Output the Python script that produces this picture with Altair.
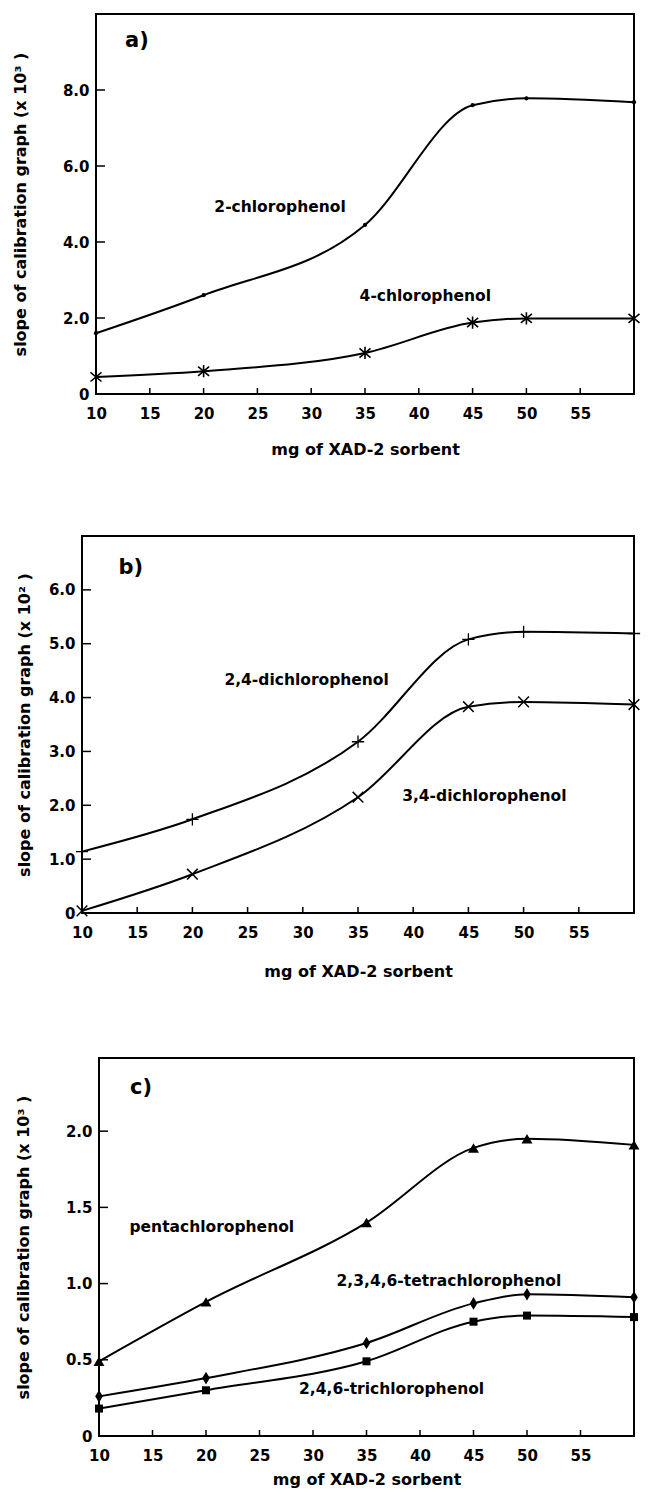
import altair as alt
import pandas as pd

# ---------------- data ----------------
MG = [10, 20, 35, 45, 50, 60]
XTICKS = [10, 15, 20, 25, 30, 35, 40, 45, 50, 55]

# panel a (x 10^3)
A_2CP = [1.6, 2.6, 4.45, 7.6, 7.78, 7.68]
A_4CP = [0.45, 0.6, 1.08, 1.88, 1.99, 1.99]
# panel b (x 10^2)
B_24DCP = [1.14, 1.74, 3.18, 5.08, 5.22, 5.19]
B_34DCP = [0.04, 0.72, 2.15, 3.83, 3.92, 3.87]
# panel c (x 10^3)
C_PCP = [0.49, 0.88, 1.4, 1.89, 1.95, 1.91]
C_TeCP = [0.26, 0.38, 0.61, 0.87, 0.93, 0.91]
C_TCP = [0.18, 0.3, 0.49, 0.75, 0.79, 0.78]

A_YTICKS = [0, 2, 4, 6, 8]
B_YTICKS = [0, 1, 2, 3, 4, 5, 6]
C_YTICKS = [0, 0.5, 1.0, 1.5, 2.0]

A_NOTES = ["2-chlorophenol", "4-chlorophenol"]
A_NOTE_X = [21.0, 34.5]
A_NOTE_Y = [4.93, 2.59]
B_NOTES = ["2,4-dichlorophenol", "3,4-dichlorophenol"]
B_NOTE_X = [22.9, 39.0]
B_NOTE_Y = [4.32, 2.18]
C_NOTES = ["pentachlorophenol", "2,3,4,6-tetrachlorophenol", "2,4,6-trichlorophenol"]
C_NOTE_X = [12.85, 32.2, 28.7]
C_NOTE_Y = [1.37, 1.02, 0.31]

LETTERS = ["a)", "b)", "c)"]
LETTER_X = [12.7, 13.3, 12.9]
LETTER_Y = [9.3, 6.4, 2.28]

XTITLE = "mg of XAD-2 sorbent"
YTITLE_3 = "slope of calibration graph (x 10\u00b3 )"
YTITLE_2 = "slope of calibration graph (x 10\u00b2 )"

FONT = "DejaVu Sans"

ASTERISK = "M-0.9,-0.75L0.9,0.75M-0.9,0.75L0.9,-0.75M0,-1L0,1"
PLUS = "M-1,0L1,0M0,-1L0,1"
XMARK = "M-0.9,-0.9L0.9,0.9M-0.9,0.9L0.9,-0.9"
DIAMOND = "M0,-1L0.6,0L0,1L-0.6,0Z"


def make_panel(letter_i, ymax, yticks, ytitle, series, notes, nx, ny,
               width, height, ytitle_pad, xtitle_pad):
    xs = alt.Scale(domain=[10, 60], nice=False, zero=False)
    ys = alt.Scale(domain=[0, ymax], nice=False, zero=False)
    xaxis = alt.Axis(values=XTICKS, ticks=False, domain=False, grid=False,
                     labelFlush=False, labelFont=FONT, labelFontSize=15,
                     labelFontWeight="bold", labelColor="black", labelPadding=12,
                     title=XTITLE, titleFont=FONT, titleFontSize=16,
                     titleFontWeight="bold", titleColor="black",
                     titlePadding=xtitle_pad)
    yaxis = alt.Axis(values=yticks, ticks=False, domain=False, grid=False,
                     labelExpr="datum.value == 0 ? '0' : format(datum.value, '.1f')",
                     labelFont=FONT, labelFontSize=15, labelFontWeight="bold",
                     labelColor="black", labelPadding=7,
                     title=ytitle, titleFont=FONT, titleFontSize=16,
                     titleFontWeight="bold", titleColor="black",
                     titlePadding=ytitle_pad)

    def X():
        return alt.X("mg:Q", scale=xs, axis=xaxis, title=XTITLE)

    def Y():
        return alt.Y("value:Q", scale=ys, axis=yaxis, title=ytitle)

    layers = []
    for vals, shape, filled, size, sw in series:
        df = pd.DataFrame({"mg": MG, "value": vals})
        layers.append(
            alt.Chart(df).mark_line(interpolate="monotone", color="black",
                                    strokeWidth=2).encode(x=X(), y=Y())
        )
        layers.append(
            alt.Chart(df).mark_point(shape=shape, filled=filled, size=size,
                                     color="black", strokeWidth=sw,
                                     opacity=1).encode(x=X(), y=Y())
        )

    ytick_df = pd.DataFrame({"value": [v for v in yticks if v > 0]})
    layers.append(
        alt.Chart(ytick_df).mark_rule(color="black", strokeWidth=1.5).encode(
            y=Y(), x=alt.value(0), x2=alt.value(9))
    )
    xtick_df = pd.DataFrame({"mg": XTICKS[1:]})
    layers.append(
        alt.Chart(xtick_df).mark_rule(color="black", strokeWidth=1.5).encode(
            x=X(), y=alt.value(height), y2=alt.value(height - 6))
    )

    note_df = pd.DataFrame({"mg": nx, "value": ny, "label": notes})
    layers.append(
        alt.Chart(note_df).mark_text(align="left", baseline="middle", font=FONT,
                                     fontSize=15.5, fontWeight="bold",
                                     color="black").encode(
            x=X(), y=Y(), text="label:N")
    )
    let_df = pd.DataFrame({"mg": [LETTER_X[letter_i]], "value": [LETTER_Y[letter_i]],
                           "label": [LETTERS[letter_i]]})
    layers.append(
        alt.Chart(let_df).mark_text(align="left", baseline="middle", font=FONT,
                                    fontSize=21, fontWeight="bold",
                                    color="black").encode(
            x=X(), y=Y(), text="label:N")
    )
    return alt.layer(*layers).properties(width=width, height=height)


def spacer(w):
    return alt.Chart(pd.DataFrame({"v": [0]})).mark_rule(opacity=0).encode(
        x=alt.value(0), x2=alt.value(0), y=alt.value(0), y2=alt.value(0)
    ).properties(width=w, height=1, view=alt.ViewBackground(strokeOpacity=0))


pa = make_panel(
    0, 10, A_YTICKS, YTITLE_3,
    [(A_2CP, "circle", True, 18, 1), (A_4CP, ASTERISK, False, 150, 1.6)],
    A_NOTES, A_NOTE_X, A_NOTE_Y, 538, 380, 33.5, 20)
pb = make_panel(
    1, 7, B_YTICKS, YTITLE_2,
    [(B_24DCP, PLUS, False, 150, 1.3), (B_34DCP, XMARK, False, 140, 1.5)],
    B_NOTES, B_NOTE_X, B_NOTE_Y, 552, 377, 15.5, 23)
pc = make_panel(
    2, 2.48, C_YTICKS, YTITLE_3,
    [(C_PCP, "triangle-up", True, 120, 1), (C_TeCP, DIAMOND, True, 160, 1),
     (C_TCP, "square", True, 64, 1)],
    C_NOTES, C_NOTE_X, C_NOTE_Y, 535, 378, 33.5, 8)

row_a = alt.hconcat(spacer(1), pa, spacing=0)
row_b = alt.hconcat(spacer(5), pb, spacing=0)
row_c = alt.hconcat(spacer(4), pc, spacing=0)

chart = alt.vconcat(row_a, row_b, row_c, spacing=77).properties(
    padding={"left": 2, "top": 5, "right": 0, "bottom": 0},
    background="white",
).configure_view(stroke="black", strokeWidth=2)

chart.save("out.html", embed_options={"renderer": "svg", "actions": False})
